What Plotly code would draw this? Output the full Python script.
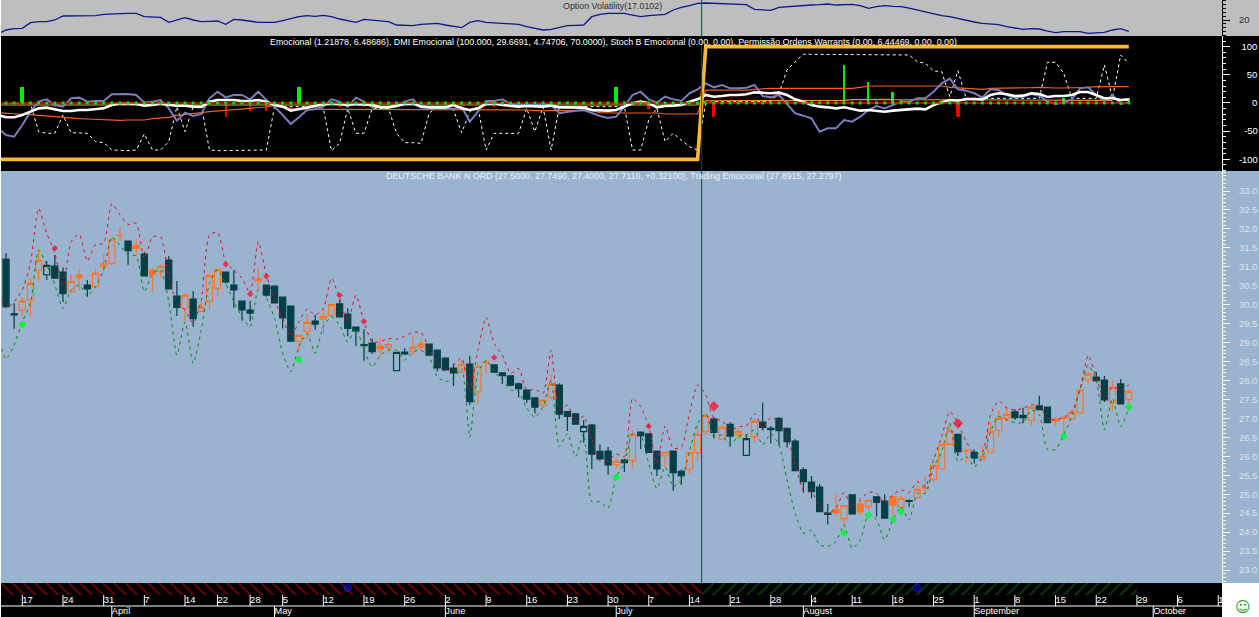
import plotly.graph_objects as go

# ---------- data ----------
opens = [31.205,29.76,29.851,30.124,30.906,30.79,31.02,30.86,30.344,30.784,30.52,30.476,31.0,31.09,31.82,31.68,31.575,31.337,30.915,30.87,
 31.18,30.23,29.90,30.15,29.825,30.09,30.43,30.86,30.52,30.097,29.86,30.62,30.52,30.49,30.2,29.965,29.025,29.29,29.57,
 29.62,29.72,30.02,29.755,29.41,28.95,28.99,28.91,28.87,28.26,28.75,28.76,28.96,28.96,28.80,28.59,28.33,28.23,28.435,27.705,28.48,
 28.41,28.2,28.12,27.91,27.75,27.54,27.34,27.57,27.88,27.18,27.12,26.65,26.825,26.13,26.14,25.78,25.9,25.885,26.64,26.59,
 26.14,26.02,26.14,25.6,25.655,26.095,26.65,26.98,26.447,26.84,26.58,26.025,26.52,26.9,26.735,27.0,26.74,26.4,25.64,25.32,
 25.19,24.5,24.6,24.355,24.98,24.74,24.67,24.93,24.82,24.94,24.66,24.83,24.91,25.18,25.39,25.67,26.315,26.58,26.14,26.105,
 25.91,26.105,26.685,27.0,27.17,27.08,26.95,27.33,27.3,26.98,27.0,26.99,27.15,28.02,28.09,28.01,27.415,27.91,27.5]
highs = [31.36,30.036,30.203,30.72,31.44,31.153,31.31,30.986,30.81,30.94,30.65,30.95,31.337,31.795,32.05,31.68,31.724,31.40,30.96,31.07,
 31.285,30.625,30.31,30.36,30.097,30.775,30.93,30.86,30.915,30.097,30.097,30.985,30.52,30.49,30.2,29.965,29.19,29.745,29.73,
 29.90,30.036,30.12,29.904,29.41,29.35,29.10,29.12,29.03,28.74,28.85,29.17,29.09,28.96,28.80,28.59,28.45,28.54,28.65,28.45,28.54,
 28.41,28.2,28.12,27.95,27.75,27.54,27.48,28.17,27.925,27.18,27.12,26.96,26.85,26.32,26.245,25.96,25.945,26.69,26.64,26.59,
 26.14,26.105,26.14,25.655,26.1,26.82,27.13,27.04,26.825,26.9,26.755,26.58,27.0,27.42,26.8,27.03,26.74,26.45,25.71,25.48,
 25.27,24.74,25.02,24.7,24.98,24.92,24.87,24.93,25.0,24.94,24.95,24.865,25.22,25.48,25.76,26.315,26.87,26.58,26.21,26.18,
 26.27,26.9,27.22,27.33,27.24,27.28,27.31,27.6,27.3,27.04,27.03,27.22,27.75,28.23,28.23,28.12,28.01,28.04,27.749]
lows = [29.95,29.367,29.70,29.684,30.63,30.65,30.70,30.07,30.30,30.39,30.21,30.476,30.87,31.05,31.69,31.055,31.30,30.757,30.344,30.72,
 30.42,29.70,29.57,29.42,29.825,29.86,30.21,30.56,29.92,29.58,29.57,30.37,30.21,30.045,29.37,29.04,28.76,29.10,29.33,
 29.22,29.67,29.68,29.17,28.91,28.52,28.70,28.63,28.72,28.26,28.67,28.67,28.76,28.67,28.23,28.28,27.855,28.19,27.35,27.38,28.19,
 28.22,27.91,27.84,27.55,27.41,27.13,27.28,27.485,26.98,26.67,26.85,26.36,25.665,25.93,25.51,25.665,25.585,25.70,26.19,26.1,
 25.48,25.72,25.09,25.24,25.55,25.86,26.56,26.47,26.447,26.25,26.447,26.025,26.36,26.68,26.34,26.28,26.23,25.62,25.04,24.89,
 24.54,24.2,24.41,24.14,24.48,24.45,24.58,24.41,24.37,24.45,24.54,24.67,24.89,25.02,25.33,25.64,26.315,26.01,25.81,25.81,
 25.91,26.105,26.52,26.93,26.96,26.87,26.81,27.23,26.89,26.8,26.52,26.99,27.15,27.92,27.97,27.43,27.205,27.38,27.40]
closes = [29.948,29.73,30.097,30.563,31.17,31.04,30.70,30.29,30.616,30.713,30.414,30.83,31.08,31.724,31.83,31.425,31.478,30.757,30.80,31.012,
 30.42,29.93,30.247,29.63,29.93,30.775,30.93,30.60,30.39,29.86,29.78,30.68,30.255,30.045,29.65,29.04,29.19,29.535,29.49,
 29.693,30.0,29.68,29.376,29.306,28.92,28.76,28.83,28.95,28.74,28.70,28.875,28.89,28.67,28.33,28.28,28.2,28.425,27.44,28.37,28.49,
 28.22,28.13,27.88,27.785,27.51,27.30,27.48,27.9,27.11,27.05,26.85,26.79,26.06,25.93,25.77,25.87,25.83,26.58,26.545,26.1,
 25.665,26.105,25.57,25.49,26.1,26.58,27.07,26.63,26.765,26.535,26.66,26.465,26.92,26.765,26.7,26.68,26.385,25.62,25.33,25.07,
 24.54,24.47,24.51,24.7,24.48,24.53,24.84,24.79,24.37,24.71,24.89,24.81,25.13,25.15,25.76,26.315,26.67,26.12,26.16,25.96,
 26.0,26.66,27.0,27.11,27.02,27.02,27.29,27.23,26.89,26.93,27.03,27.16,27.75,28.17,27.995,27.49,27.82,27.38,27.711]
orange_bars = [2,3,4,8,9,11,12,13,14,16,18,19,22,24,25,26,31,36,37,39,40,46,47,50,51,56,58,59,66,67,75,77,81,84,85,86,88,90,92,
 102,103,105,106,109,110,112,113,114,115,116,118,120,121,122,123,126,129,130,131,132,133,136,138]

# indicator lines start one session before the first candle
upper_band = [30.48,29.90,30.08,30.39,31.09,32.54,31.88,31.36,30.48,31.66,31.86,31.15,31.59,31.62,32.66,32.37,32.12,32.15,31.22,31.79,31.79,
 30.74,30.04,29.86,29.51,30.12,31.84,31.91,31.13,30.91,30.70,30.30,31.66,30.78,30.12,29.64,29.16,29.55,29.88,29.73,
 29.90,30.70,30.17,29.55,30.25,29.55,29.02,29.02,29.11,29.09,29.17,29.27,29.27,28.85,28.45,28.23,28.41,28.59,27.75,28.80,29.67,
 28.98,28.67,28.19,28.32,27.75,27.77,27.66,28.80,27.22,27.35,26.91,27.06,26.47,25.88,25.90,26.06,25.99,27.53,27.31,26.78,
 25.81,26.80,26.21,26.25,27.13,27.88,27.62,27.0,26.94,26.69,26.78,26.80,27.13,26.74,27.03,26.91,26.52,25.80,25.11,25.07,
 24.67,24.49,24.63,25.04,24.67,24.85,25.05,25.02,24.76,24.98,25.11,25.04,25.33,25.20,25.90,26.52,27.18,26.87,26.39,26.08,
 26.10,27.09,27.46,27.27,27.22,27.27,27.35,27.35,27.0,26.96,27.03,27.18,27.75,28.66,28.10,27.49,27.84,27.75,27.89]
lower_band = [29.20,28.56,28.94,29.55,30.04,31.44,31.05,30.52,29.90,30.39,30.52,30.23,30.48,30.92,31.79,31.57,31.31,31.29,30.34,30.83,30.92,
 30.08,28.67,29.55,28.45,29.33,30.56,30.92,30.56,30.08,29.68,29.42,30.39,30.17,29.64,28.72,28.23,28.89,29.24,28.72,
 29.42,29.68,29.46,29.02,29.38,28.80,28.36,28.67,28.80,28.80,28.54,28.76,28.80,28.63,28.10,27.97,28.06,28.32,26.50,28.19,28.54,
 28.23,28.01,27.75,27.71,27.27,27.03,27.31,28.01,26.25,26.60,25.99,26.60,24.80,24.80,24.63,25.46,25.81,26.60,26.56,25.81,
 25.15,25.72,25.20,25.37,26.12,26.87,27.13,26.52,26.56,26.30,26.52,26.56,26.69,26.30,26.60,26.30,25.37,24.49,23.97,24.05,
 23.66,23.62,23.75,24.19,23.57,23.79,24.45,24.32,23.79,24.32,24.67,24.32,25.02,25.02,25.70,26.12,26.87,25.86,26.0,25.73,
 25.95,26.65,27.05,26.96,26.89,26.89,27.22,27.09,26.18,26.18,26.56,27.05,27.75,28.41,28.01,26.70,27.53,26.78,27.28]
sell_signal_bars = [6,27,30,32,41,44,60,79,87,117]
sell_signal_vals = [31.49,31.07,30.28,30.75,30.25,29.56,28.61,26.79,27.32,26.87]
buy_signal_bars = [2,36,75,103,106,109,110,130,138]
buy_signal_vals = [29.48,28.55,25.45,23.97,24.45,24.33,24.55,26.53,27.30]

volatility = [16.31,17.37,17.72,17.80,19.29,19.56,19.56,20.0,21.05,21.05,21.05,21.05,21.14,21.49,21.49,21.66,21.75,21.75,20.87,20.70,20.70,
 19.38,20.0,20.61,20.0,19.56,19.65,19.73,18.86,20.17,20.0,19.73,19.38,19.38,19.38,19.82,20.44,20.87,21.14,20.96,21.22,20.87,20.26,19.73,19.38,
 20.17,20.0,19.82,19.56,18.68,18.59,18.51,18.86,18.94,19.12,18.68,18.24,17.98,19.38,19.82,19.38,19.29,19.12,18.94,18.86,18.24,17.80,17.37,17.54,
 17.98,18.51,18.59,18.68,20.87,21.49,21.75,21.75,21.75,21.31,20.87,21.14,21.40,21.49,22.63,23.33,23.77,24.38,24.47,24.38,24.21,24.12,24.03,24.03,
 22.80,22.63,22.54,23.33,23.51,23.68,23.86,23.94,24.03,24.21,23.94,23.94,24.12,23.77,23.07,23.51,23.77,23.59,23.51,23.15,22.63,22.01,21.58,21.14,
 20.87,20.35,19.91,19.47,19.12,18.94,18.77,18.24,17.80,17.54,17.72,17.63,17.10,16.66,16.93,17.01,16.93,16.49,16.66,16.75,17.37,17.72,17.01]

emocional_fast = [-21.3,-25.4,-25.4,-21.3,-15.4,-9.5,-8.3,-11.2,-14.2,-14.2,-12.4,-12.4,-11.2,-9.5,-3.6,-0.6,-0.6,-1.8,-4.7,-3.6,-0.6,
 -3.6,-5.0,-5.0,-6.5,-7.0,2.4,5.3,5.3,5.3,3.6,3.6,5.3,2.4,-3.6,-6.5,-13.6,-10.7,-7.7,-5.3,-2.4,-0.6,-1.8,-3.6,-1.8,-2.4,-3.6,-7.7,-7.7,-5.3,-1.8,-0.6,
 -6.5,-7.7,-7.7,-7.7,-3.6,-9.5,-12.4,-9.5,-1.8,-0.6,-3.6,-5.3,-6.5,-5.3,-5.3,-6.5,-4.7,-7.7,-7.7,-7.7,-8.3,-12.4,-13.6,-13.6,-12.4,-6.5,-0.6,2.4,-0.6,-7.7,
 -5.3,-4.7,-3.6,2.4,6.5,14.2,11.2,12.4,14.2,14.2,15.4,18.9,18.3,17.2,18.3,14.2,6.5,2.4,-3.6,-6.5,-7.7,-9.5,
 -7.7,-10.7,-13.6,-12.4,-13.6,-15.4,-13.6,-12.4,-12.4,-10.0,-11.2,-3.6,1.2,5.3,4.1,7.1,7.1,6.5,14.2,17.2,15.4,12.4,13.0,17.2,16.0,10.7,12.4,12.4,14.2,19.5,19.5,14.2,8.3,8.3,5.3,6.49]
emocional_slow = [-45,-56.8,-59.8,-39,-15.4,2.4,6.5,-3.6,-6.5,8.3,9.5,2.4,3.6,3.6,15.4,16,16,14.2,0.6,2.4,5.3,-9.5,-31.4,-17.2,-23,-19.5,8.3,20.1,10,14.2,14.2,6.5,20.1,5.3,-6.5,-21.3,-37.3,-25.4,-12.4,-11.2,-6.5,6.5,2.4,-6.5,9.5,2.4,-7.7,-6.5,-6.5,-3.6,2.4,6.5,
 -7.7,-7.7,-9.5,-9.5,-10.7,-6.5,-33.1,-15.4,3.6,3.6,6.5,-1.8,-1.8,-3.6,-3.6,-1.8,-3.6,-18.3,-15.4,-13.6,-12.4,-18.3,-23,-26.6,-24.3,-6.5,14.2,20.1,6.5,0.6,11.2,6.5,3.6,17.2,24.3,34.9,27.8,32,26,26,27.2,32,12.4,10,14.2,-1.8,-18.3,-22.5,-27.2,-50.9,-45,-45,
 -30.2,-33.1,-24.3,-12.4,-5.3,-9.5,-3.6,2.4,2.4,8.3,8.3,20.1,34.9,43.2,24.3,21.9,17.2,10,24.3,23.1,14.2,9.5,11.2,16,13,2.4,-1.8,0.6,6.5,26,27.8,14.2,3.6,14.2,-1.8,1.22]
stoch_dashed = [-0.6,-0.6,-0.6,-0.6,-0.6,-50.9,-53.8,-53.8,-21.3,-52.7,-53.8,-53.8,-68.6,-70.4,-83.4,-84.6,-84.6,-83.4,-55,-83.4,-83.4,-68.6,-6.5,-50.9,-6.5,-3.6,-83.4,-84.6,-84.6,-84.6,-84.6,-84.6,-84.6,-83.4,-6.5,-6.5,-6.5,-6.5,-6.5,-6.5,-9.5,-84.6,-71.6,-9.5,-53.8,-53.8,-9.5,-9.5,-9.5,-53.8,-70.4,-70.4,
 -71.6,-18.3,-6.5,-6.5,-12.4,-52.7,-15.4,-6.5,-83.4,-53.8,-53.8,-53.8,-53.8,-9.5,-50.9,-6.5,-83.4,-6.5,-6.5,-6.5,-6.5,-6.5,-6.5,-6.5,-6.5,-6.5,-83.4,-83.4,-30.2,-9.5,-68.6,-53.8,-65.7,-77.5,-83.4,-0.6,2.4,2.4,2.4,2.4,2.4,2.4,2.4,2.4,17.2,58.6,73.4,86.4,86.4,86.4,86.4,
 86.4,86.4,86.4,86.4,86.4,86.4,86.4,86.4,86.4,85.2,73.4,70.4,56.8,55.6,11.2,57.4,8.3,8.3,8.3,8.3,8.3,8.3,8.3,8.3,8.3,8.3,72.2,72.2,52.7,8.3,8.3,8.3,8.3,67.5,8.3,85.2,70]
dmi_plus = [-17,-18.3,-19.5,-20,-20.7,-22,-23,-24.3,-25.4,-26.6,-27.8,-28.4,-29,-30.2,-30.8,-30.8,-30.2,-30.2,-30.2,-27.8,-26.6,-25.4,-22,-20.7,-19,-17,-15.4,-14.2,-13,-11.2,-9.5,-8.3,-7.7,-7.1,-4.1,-7.7,-10,-10.7,-11.2,-11.2,-11.2,-11.2,-11.2,-11.2,-11.2,-11.2,-11.2,-11.2,-11.2,-11.2,-11.2,-11.2,
 -11.8,-11.8,-11.8,-11.8,-11.8,-11.8,-11.8,-11.8,-11.8,-11.8,-11.8,-11.8,-11.8,-12.4,-13.6,-13.6,-13.6,-13.6,-13.6,-13.6,-13.6,-13.6,-17,-17.8,-17.8,-17.8,-17.8,-17.8,-17.8,-17.8,-19.5,-19.5,-19.5,-19.5,-19.5,23,23,23,22.4,21.9,23,24.3,25.4,26,26,26,26,26,26,26,26,26,26,
 26,27.8,30.2,30.2,30.2,30.8,30.8,30.8,30.8,30.8,30.8,30.2,27.8,26.6,25.4,24.3,24.3,26,26,26,26,26,27.2,27.8,26.6,26.6,26.6,26.6,26.6,27.8,29,29,29,29,29,29,29.67]
dmi_minus = [-3.6,-3.6,-3.6,-3.4,-3.4,-3.4,-3.2,-3.2,-3.2,-3.2,-3.0,-3.0,-3.0,-3.0,-3.0,-3.2,-3.2,-3.2,-3.2,-3.2,-3.4,-3.4,-3.4,-3.4,-3.4,-3.6,-3.6,-3.6,-3.6,-3.6,-3.6,-3.6,-3.6,-3.6,-3.6,-3.6,-3.4,-3.4,-3.4,-3.4,-3.4,-3.4,-3.4,-3.4,-3.4,-3.4,-3.4,-3.2,-3.2,-3.2,-3.2,-3.2,
 -3.2,-3.2,-3.2,-3.2,-3.2,-3.4,-3.4,-3.4,-3.4,-3.4,-3.4,-3.4,-3.4,-3.4,-3.6,-3.6,-3.6,-3.6,-3.6,-3.6,-3.6,-3.6,-3.6,-3.6,-3.6,-3.6,-3.6,-3.6,-3.6,-3.6,-3.6,-3.6,-3.6,-3.6,-3.6,4.0,4.0,4.0,4.0,4.0,4.2,4.2,4.2,4.2,4.4,4.4,4.4,4.4,4.6,4.6,4.6,4.6,
 4.6,6.0,6.4,6.4,6.4,6.4,6.0,6.0,5.6,5.0,5.0,4.8,4.8,4.8,4.8,4.8,4.8,4.8,4.8,4.8,4.8,4.8,4.8,4.8,4.8,4.8,4.8,4.8,4.8,4.8,4.8,4.8,4.75,4.75]
dmi_level = [-100,-100,-100,-100,-100,-100,-100,-100,-100,-100,-100,-100,-100,-100,-100,-100,-100,-100,-100,-100,-100,-100,-100,-100,-100,-100,-100,-100,-100,-100,-100,-100,-100,-100,-100,-100,-100,-100,-100,-100,-100,-100,-100,-100,-100,-100,-100,-100,-100,-100,-100,-100,
 -100,-100,-100,-100,-100,-100,-100,-100,-100,-100,-100,-100,-100,-100,-100,-100,-100,-100,-100,-100,-100,-100,-100,-100,-100,-100,-100,-100,-100,-100,-100,-100,-100,-100,-100,100,100,100,100,100,100,100,100,100,100,100,100,100,100,100,100,100,
 100,100,100,100,100,100,100,100,100,100,100,100,100,100,100,100,100,100,100,100,100,100,100,100,100,100,100,100,100,100,100,100,100,100,100,100,100,100]
permissao = [0.0] * 140
green_hist_bars = [2,36,75,103,106,109,110,130,138]
green_hist_vals = [27.8,27.8,27.8,67,38,19,6,8,8]
red_hist_bars = [6,27,30,32,41,44,60,79,87,117]
red_hist_vals = [-6.5,-24,-14,-15,-6.5,-6.5,-6.5,-11,-25,-25]

price_ticks = [23.0,23.5,24.0,24.5,25.0,25.5,26.0,26.5,27.0,27.5,28.0,28.5,29.0,29.5,30.0,30.5,31.0,31.5,32.0,32.5,33.0]
week_bars = [2,7,12,17,22,26,30,34,39,44,49,54,59,64,69,74,79,84,89,94,99,104,109,114,119,124,129,134,139,144,149]
week_labels = ["17","24","31","7","14","22","28","5","12","19","26","2","9","16","23","30","7","14","21","28","4","11","18","25","1","8","15","22","29","6","13"]
month_bars = [13,33,54,75,98,119,141]
month_labels = ["April","May","June","July","August","September","October"]
regime_spans = [(-1, 85.5, "\\", "#FF0000"), (85.5, 139, "/", "#0E8A0E")]
event_bars = [42,112]
cursor_bar = 85.5

# ---------- layout constants (pixels of the 1259x617 page) ----------
W, H = 1259, 617
PX0, BAR = 6.03, 8.136       # pixel of bar 0, pixels per bar
L, R = 1, 1222               # plot left / right
def yf(p): return (H - p) / H
def xf(p): return p / W

bars = list(range(len(opens)))
line_x = list(range(-1, len(opens)))
dark = "#033F47"; orange = "#F9762B"; font = "Liberation Sans"

fig = go.Figure()

# candles
def subset(idx, name, col):
    fig.add_trace(go.Candlestick(
        x=idx, open=[opens[i] for i in idx], high=[highs[i] for i in idx],
        low=[lows[i] for i in idx], close=[closes[i] for i in idx], name=name,
        whiskerwidth=0, xaxis="x", yaxis="y",
        increasing=dict(line=dict(color=col, width=1.2), fillcolor="rgba(0,0,0,0)"),
        decreasing=dict(line=dict(color=col, width=1.2), fillcolor=col)))
oset = set(orange_bars)
subset([i for i in bars if i not in oset], "down", dark)
subset(orange_bars, "up", orange)

# bands and signals
spl = dict(shape="spline", smoothing=0.6, width=1, dash="3px,4px")
fig.add_trace(go.Scatter(x=line_x, y=lower_band, mode="lines", line=dict(color="#008A00", **spl), yaxis="y"))
fig.add_trace(go.Scatter(x=line_x, y=upper_band, mode="lines", line=dict(color="#F00020", **spl), yaxis="y"))
sizes = [8 if b in (87, 117) else 5 for b in sell_signal_bars]
fig.add_trace(go.Scatter(x=sell_signal_bars, y=sell_signal_vals, mode="markers", yaxis="y",
                         marker=dict(symbol="diamond", size=sizes, color="#FF0020", line_width=0)))
fig.add_trace(go.Scatter(x=buy_signal_bars, y=buy_signal_vals, mode="markers", yaxis="y",
                         marker=dict(symbol="diamond", size=6, color="#10F040", line_width=0)))

# middle panel
fig.add_trace(go.Bar(x=green_hist_bars, y=green_hist_vals, yaxis="y2", marker=dict(color="#00F000", line_width=0),
                     width=[.5,.5,.5,.25,.22,.22,.22,.22,.25]))
fig.add_trace(go.Bar(x=red_hist_bars, y=red_hist_vals, yaxis="y2", marker=dict(color="#F00000", line_width=0),
                     width=[.15,.25,.2,.2,.15,.15,.15,.2,.4,.4]))
fig.add_trace(go.Scatter(x=line_x, y=stoch_dashed, mode="lines", yaxis="y2", line=dict(color="white", width=1, dash="3px,3px")))
fig.add_trace(go.Scatter(x=line_x, y=dmi_plus, mode="lines", yaxis="y2", line=dict(color="#F0601E", width=1.2)))
fig.add_trace(go.Scatter(x=line_x, y=dmi_minus, mode="lines", yaxis="y2", line=dict(color="#F7932E", width=1.2)))
fig.add_trace(go.Scatter(x=line_x, y=emocional_slow, mode="lines", yaxis="y2", line=dict(color="#7A7DBB", width=2)))
fig.add_trace(go.Scatter(x=line_x, y=emocional_fast, mode="lines", yaxis="y2", line=dict(color="white", width=2.6)))
fig.add_trace(go.Scatter(x=line_x, y=permissao, mode="lines", yaxis="y2", line=dict(color="#F00000", width=1.5)))
fig.add_trace(go.Scatter(x=line_x, y=permissao, mode="markers", yaxis="y2",
                         marker=dict(symbol="square", size=3, color="#00E000", line_width=0)))
fig.add_trace(go.Scatter(x=line_x, y=dmi_level, mode="lines", yaxis="y2", line=dict(color="#FDB933", width=3.6)))

# top panel
fig.add_trace(go.Scatter(x=line_x, y=volatility, mode="lines", yaxis="y3", line=dict(color="#0A1A8C", width=1.3)))

# bottom strip: regime hatching, week and month scale
for start, end, shape, col in regime_spans:
    fig.add_trace(go.Bar(x=[(start + end) / 2], width=[end - start], y=[12], base=[22], yaxis="y4",
                         marker=dict(color="black", line_width=0,
                                     pattern=dict(shape=shape, fgcolor=col, bgcolor="black", size=8, solidity=0.2))))
fig.add_trace(go.Scatter(x=event_bars, y=[29] * len(event_bars), mode="markers", yaxis="y4",
                         marker=dict(symbol="circle-x-open", size=7, color="#1010F0", line=dict(width=1, color="#1010F0"))))
seg_x, seg_y = [], []
for b in week_bars:
    seg_x += [b, b, None]; seg_y += [22, 11, None]
for b in month_bars:
    seg_x += [b, b, None]; seg_y += [11, 0, None]
fig.add_trace(go.Scatter(x=seg_x, y=seg_y, mode="lines", yaxis="y4", line=dict(color="white", width=1)))
fig.add_trace(go.Scatter(x=[-1, 150], y=[11, 11], mode="lines", yaxis="y4", line=dict(color="white", width=1)))
fig.add_trace(go.Scatter(x=week_bars, y=[16.5] * len(week_bars), text=week_labels, mode="text",
                         textposition="middle right", yaxis="y4", textfont=dict(color="white", size=9.5, family=font)))
fig.add_trace(go.Scatter(x=month_bars, y=[5] * len(month_bars), text=month_labels, mode="text",
                         textposition="middle right", yaxis="y4", textfont=dict(color="white", size=9.2, family=font)))

def nb(n): return "\u00a0" * n

def yaxis(p_top, p_bot, rng, dtick, minor, color, line, **kw):
    return dict(domain=[yf(p_bot), yf(p_top)], range=rng, side="right", anchor="x", dtick=dtick,
                showgrid=False, zeroline=False, showline=True, linecolor=line, linewidth=1,
                ticks="outside", ticklen=7, tickcolor=line, tickwidth=1, ticklabelstandoff=7,
                tickfont=dict(color=color, size=9.5, family=font), fixedrange=True,
                minor=dict(dtick=minor, ticks="outside", ticklen=3, tickcolor=line, tickwidth=1, showgrid=False), **kw)

bg = [(0, 36, "#BEBEBE", xf(L), 1), (36, 171, "#000000", xf(L), 1), (171, 583, "#9AB3CE", xf(L), 1), (583, 617, "#000000", xf(L), xf(R))]
shapes = [dict(type="rect", xref="paper", yref="paper", x0=a, x1=b, y0=yf(p1), y1=yf(p0), fillcolor=c,
               line_width=0, layer="below") for p0, p1, c, a, b in bg]
shapes.append(dict(type="line", xref="x", yref="paper", x0=cursor_bar, x1=cursor_bar, y0=yf(583), y1=1,
                   line=dict(color="#0B4A3C", width=1), layer="above"))

def note(text, left, py, color, size=8.9, fam=font):
    return dict(text=text, xref="paper", yref="paper", x=xf(left), y=yf(py), xanchor="left", yanchor="middle",
                showarrow=False, font=dict(color=color, size=size, family=fam))

fig.update_layout(
    width=W, height=H, margin=dict(l=0, r=0, t=0, b=0, autoexpand=False), autosize=False,
    paper_bgcolor="white", plot_bgcolor="rgba(0,0,0,0)", showlegend=False, barmode="overlay",
    bargap=0, boxgap=0.25, boxgroupgap=0,
    xaxis=dict(domain=[xf(L), xf(R)], range=[(L - PX0) / BAR, (R - PX0) / BAR], anchor="y4", visible=False,
               rangeslider=dict(visible=False), fixedrange=True),
    yaxis=dict(yaxis(171, 583, [22.657, 33.528], None, 0.1, "#DCE5EF", "white", tickformat=".1f"),
               tickmode="array", tickvals=price_ticks),
    yaxis2=dict(yaxis(36, 171, [-120.7, 118.9], None, 10, "white", "white"),
                tickmode="array", tickvals=[-100, -50, 0, 50, 100],
                ticktext=["-100", nb(2) + "-50", nb(5) + "0", nb(3) + "50", nb(1) + "100"]),
    yaxis3=yaxis(0, 36, [15.79, 25.26], 5, 1, "#303030", "black", tickvals=[20], tickmode="array"),
    yaxis4=dict(domain=[yf(617), yf(583)], range=[0, 34], anchor="x", visible=False, fixedrange=True),
    shapes=shapes,
    annotations=[
        note("Option Volatility(17.0102)", 561, 6, "#303030"),
        note("Emocional (1.21878, 6.48686), DMI Emocional (100.000, 29.6691, 4.74706, 70.0000), Stoch B Emocional (0.00, 0.00), Permissão Ordens Warrants (0.00, 6.44469, 0.00, 0.00)", 268, 42, "white"),
        note("DEUTSCHE BANK N ORD (27.5000, 27.7490, 27.4000, 27.7110, +0.32100), Trading Emocional (27.8915, 27.2797)", 384, 176, "#EEF3F8"),
        note("☺", 1233, 607, "#1E9E1E", size=15, fam="DejaVu Sans"),
    ],
)

fig.write_html("out.html", post_script="document.body.style.margin='0';document.body.style.overflow='hidden';",
               config=dict(displayModeBar=False))
